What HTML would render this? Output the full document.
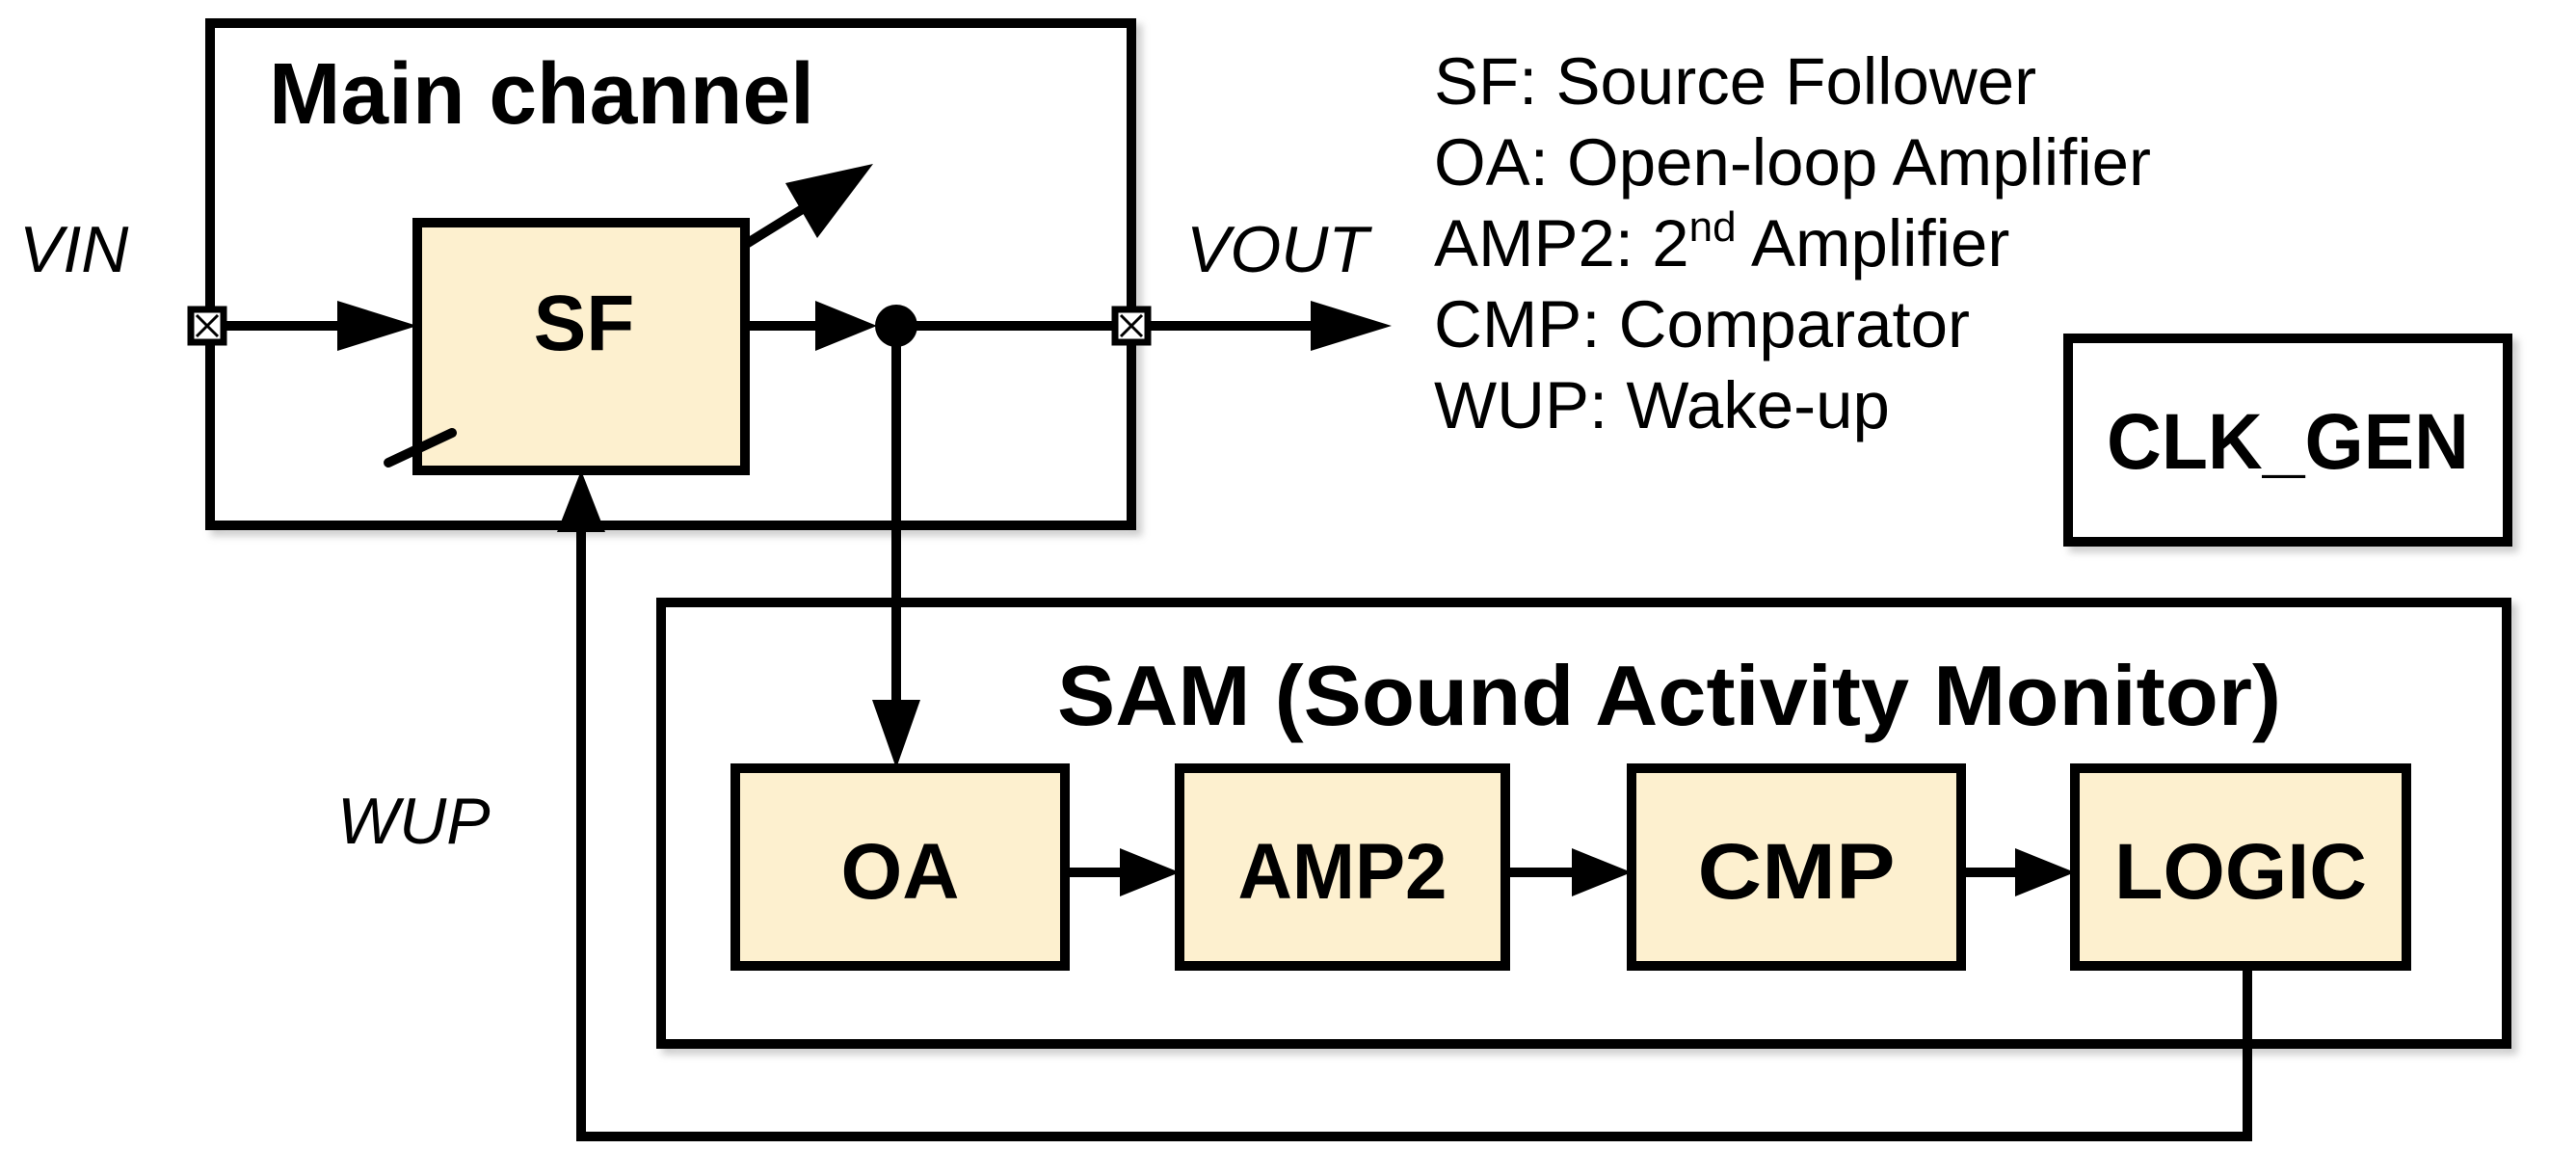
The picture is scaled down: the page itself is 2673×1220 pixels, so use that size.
<!DOCTYPE html>
<html><head><meta charset="utf-8"><style>
html,body{margin:0;padding:0;background:#fff;}
svg{display:block;}
text{font-family:"Liberation Sans",Arial,sans-serif;}
</style></head><body>
<svg width="2673" height="1220" viewBox="0 0 2673 1220" xmlns="http://www.w3.org/2000/svg">
<defs>
<filter id="sh" x="-5%" y="-5%" width="115%" height="115%"><feGaussianBlur stdDeviation="4"/></filter>
</defs>
<g fill="none" stroke="#999" stroke-width="10" opacity="0.5" filter="url(#sh)">
<rect x="224" y="30" width="956" height="521"/>
<rect x="692" y="631" width="1915" height="458"/>
<rect x="2152" y="357" width="456" height="211"/>
<rect x="439" y="237" width="340" height="257"/>
<rect x="769" y="803" width="342" height="205"/>
<rect x="1230" y="803" width="338" height="205"/>
<rect x="1699" y="803" width="342" height="205"/>
<rect x="2159" y="803" width="344" height="205"/>
</g>
<g stroke="#000" stroke-width="10" fill="#fff">
<rect x="218" y="24" width="956" height="521"/>
<rect x="686" y="625" width="1915" height="458"/>
<rect x="2146" y="351" width="456" height="211"/>
</g>
<g stroke="#000" stroke-width="10" fill="#FDF0CF">
<rect x="433" y="231" width="340" height="257"/>
<rect x="763" y="797" width="342" height="205"/>
<rect x="1224" y="797" width="338" height="205"/>
<rect x="1693" y="797" width="342" height="205"/>
<rect x="2153" y="797" width="344" height="205"/>
</g>
<g stroke="#000" stroke-width="10" fill="none" stroke-linecap="round">
<line x1="215" y1="338" x2="370" y2="338"/>
<line x1="773" y1="338" x2="860" y2="338"/>
<line x1="930" y1="338" x2="1174" y2="338"/>
<line x1="1174" y1="338" x2="1370" y2="338"/>
<line x1="930" y1="338" x2="930" y2="730"/>
<line x1="776" y1="252" x2="855" y2="203"/>
<line x1="403" y1="480" x2="469" y2="449"/>
<polyline points="2332,1002 2332,1179 603,1179 603,530"/>
<line x1="1105" y1="905" x2="1170" y2="905"/>
<line x1="1562" y1="905" x2="1640" y2="905"/>
<line x1="2035" y1="905" x2="2100" y2="905"/>
</g>
<g fill="#000">
<polygon points="433,338 350,312 350,364"/>
<polygon points="910,338 846,312 846,364"/>
<polygon points="1444,338 1360,312 1360,364"/>
<polygon points="930,797 905,726 955,726"/>
<polygon points="603,488 578,552 628,552"/>
<polygon points="906,170 815,190 848,247"/>
<polygon points="1224,905 1162,880 1162,930"/>
<polygon points="1693,905 1631,880 1631,930"/>
<polygon points="2153,905 2091,880 2091,930"/>
<circle cx="930" cy="338" r="22"/>
</g>
<g stroke="#000" stroke-width="7" fill="#fff">
<rect x="198" y="321" width="34" height="34"/>
<rect x="1157" y="321" width="34" height="34"/>
</g>
<g stroke="#000" stroke-width="3">
<line x1="204" y1="327" x2="226" y2="349"/><line x1="226" y1="327" x2="204" y2="349"/>
<line x1="1163" y1="327" x2="1185" y2="349"/><line x1="1185" y1="327" x2="1163" y2="349"/>
</g>
<g font-weight="bold" fill="#000">
<text x="279" y="128" font-size="90" textLength="566" lengthAdjust="spacingAndGlyphs">Main channel</text>
<text x="606" y="363" font-size="82" text-anchor="middle">SF</text>
<text x="1732" y="752" font-size="88" text-anchor="middle" textLength="1270" lengthAdjust="spacingAndGlyphs">SAM (Sound Activity Monitor)</text>
<text x="934" y="932" font-size="82" text-anchor="middle">OA</text>
<text x="1393" y="932" font-size="82" text-anchor="middle" textLength="217" lengthAdjust="spacingAndGlyphs">AMP2</text>
<text x="1864" y="932" font-size="82" text-anchor="middle" textLength="205" lengthAdjust="spacingAndGlyphs">CMP</text>
<text x="2325" y="932" font-size="82" text-anchor="middle" textLength="262" lengthAdjust="spacingAndGlyphs">LOGIC</text>
<text x="2374" y="486" font-size="82" text-anchor="middle" textLength="376" lengthAdjust="spacingAndGlyphs">CLK_GEN</text>
</g>
<g font-style="italic" font-size="68" fill="#000">
<text x="20" y="282">VIN</text>
<text x="1231" y="282">VOUT</text>
<text x="350" y="875">WUP</text>
</g>
<g font-size="69" fill="#000">
<text x="1488" y="108">SF: Source Follower</text>
<text x="1488" y="192">OA: Open-loop Amplifier</text>
<text x="1488" y="276">AMP2: 2<tspan font-size="44" dy="-26">nd</tspan><tspan dy="26"> Amplifier</tspan></text>
<text x="1488" y="360">CMP: Comparator</text>
<text x="1488" y="444">WUP: Wake-up</text>
</g>
</svg>
</body></html>
